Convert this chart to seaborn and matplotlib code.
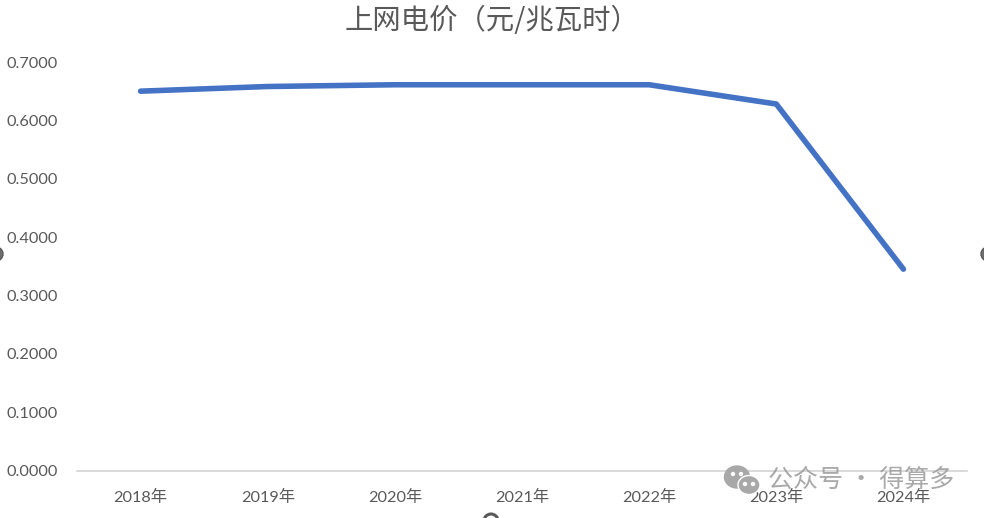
import pandas as pd
import matplotlib.pyplot as plt
from matplotlib.patches import Circle, Ellipse
import seaborn as sns

# данные с картинки
years = ['2018年', '2019年', '2020年', '2021年', '2022年', '2023年', '2024年']
prices = [0.650, 0.658, 0.661, 0.661, 0.661, 0.628, 0.345]
y_ticks = [0.0, 0.1, 0.2, 0.3, 0.4, 0.5, 0.6, 0.7]

sns.set_theme(style='white')
plt.rcParams['font.family'] = ['Lato', 'Noto Sans CJK SC', 'DejaVu Sans']

df = pd.DataFrame({'year': years, 'price': prices})

fig = plt.figure(figsize=(9.84, 5.18), dpi=100)
ax = fig.add_axes([77 / 984, (518 - 470.5) / 518, 890 / 984, 408.5 / 518])

sns.lineplot(data=df, x='year', y='price', ax=ax, color='#4472C4', linewidth=4,
             solid_capstyle='round', solid_joinstyle='round', sort=False)

ax.set_xlim(-0.5, 6.5)
ax.set_ylim(0, 0.7)
ax.set_yticks(y_ticks)
ax.set_yticklabels(['%.4f' % v for v in y_ticks])
ax.set_xlabel('')
ax.set_ylabel('')
ax.tick_params(axis='both', length=0, labelsize=11.7, labelcolor='#595959')
ax.tick_params(axis='x', pad=14)
ax.tick_params(axis='y', pad=14)

sns.despine(ax=ax, left=True)
ax.spines['bottom'].set_color('#CFCFCF')
ax.spines['bottom'].set_linewidth(1.1)

fig.text(492 / 984, 1 - 21 / 518, '上网电价（元/兆瓦时）', ha='center', va='center',
         fontsize=20.4, color='#595959', family=['Noto Sans CJK SC', 'DejaVu Sans'],
         fontweight='light')

# водяной знак
fig.text(768 / 984, 1 - 480 / 518, '公众号 · 得算多', ha='left', va='center', fontsize=18,
         color='#9A9A9A', alpha=0.85, family=['Noto Sans CJK SC', 'DejaVu Sans'],
         fontweight='light')
overlay = fig.add_axes([0, 0, 1, 1], facecolor='none')
overlay.set_xlim(0, 984)
overlay.set_ylim(518, 0)
overlay.axis('off')
overlay.add_patch(Ellipse((737, 477), 25, 22, color='#A8A8A8'))
overlay.add_patch(Ellipse((749, 485), 22, 19, color='#A8A8A8', ec='white', lw=1))
for x, y in [(733, 474), (741, 474), (745, 484), (753, 484)]:
    overlay.add_patch(Circle((x, y), 1.5, color='white'))

# маркеры выделения по краям
for x, y in [(-4, 254), (988, 254)]:
    overlay.add_patch(Circle((x, y), 7, fc='#6E6E6E', ec='#595959', lw=1))
overlay.add_patch(Circle((491, 521), 7, fc='white', ec='#595959', lw=2.2))

fig.savefig('out.png', dpi=100)
